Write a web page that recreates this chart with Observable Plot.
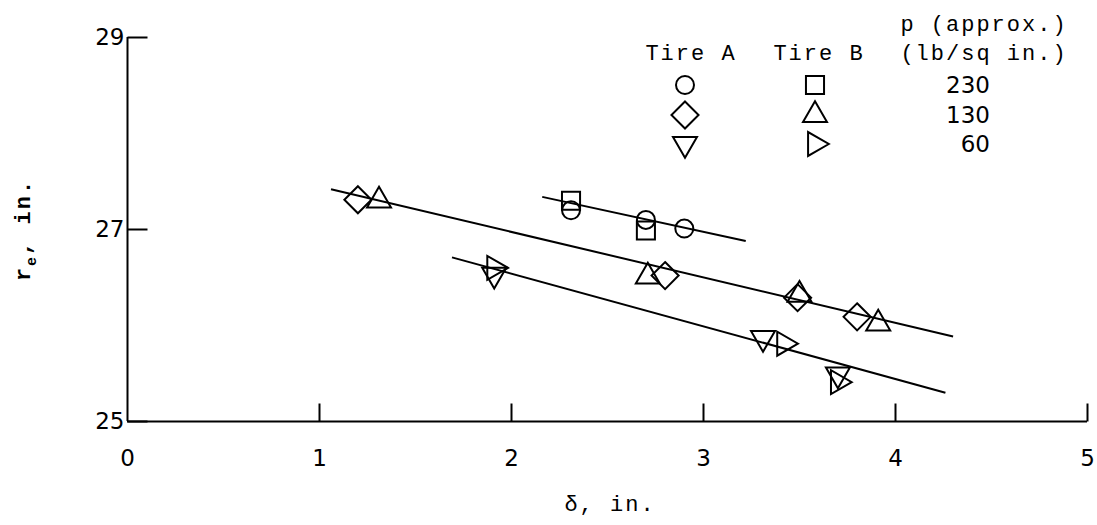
<!DOCTYPE html>
<html><head><meta charset="utf-8">
<script src="https://cdn.jsdelivr.net/npm/d3@7"></script>
<script src="https://cdn.jsdelivr.net/npm/@observablehq/plot@0.6"></script>
<style>
body{margin:0;background:#fff}
#chart{width:1097px;height:525px}
</style>
</head><body><div id="chart"></div>
<script>
// ---- data ----
const xTicks = [0, 1, 2, 3, 4, 5];
const yTicks = [25, 27, 29];
const pressureLabels = ["230", "130", "60"];
const tireLabels = ["Tire A", "Tire B"];

// Tire A / Tire B points, by pressure
const a230x = [2.31, 2.70, 2.90];
const a230y = [27.20, 27.10, 27.01];
const b230x = [2.31, 2.70];
const b230y = [27.30, 26.99];
const a130x = [1.20, 2.80, 3.49, 3.80];
const a130y = [27.31, 26.52, 26.29, 26.09];
const b130x = [1.31, 2.71, 3.50, 3.91];
const b130y = [27.30, 26.51, 26.32, 26.02];
const a60x = [1.91, 3.31, 3.70];
const a60y = [26.53, 25.87, 25.49];
const b60x = [1.91, 3.42, 3.70];
const b60y = [26.60, 25.81, 25.41];

// faired lines [x1, y1, x2, y2]
const line230 = [2.16, 27.34, 3.22, 26.88];
const line130 = [1.06, 27.42, 4.30, 25.885];
const line60 = [1.69, 26.71, 4.26, 25.30];

// ---- helpers ----
const pts = (xs, ys) => xs.map((x, i) => ({x, y: ys[i]}));
const seg = l => [{x1: l[0], y1: l[1], x2: l[2], y2: l[3]}];
const S3 = Math.sqrt(3);
const downTri = {draw(c, size) { const y = Math.sqrt(size / (S3 * 3)); c.moveTo(0, 2 * y); c.lineTo(-S3 * y, -y); c.lineTo(S3 * y, -y); c.closePath(); }};
const upTri = {draw(c, size) { const y = Math.sqrt(size / (S3 * 3)); c.moveTo(0, -2 * y); c.lineTo(S3 * y, y); c.lineTo(-S3 * y, y); c.closePath(); }};
const rightTri = {draw(c, size) { const y = Math.sqrt(size / (S3 * 3)); c.moveTo(2 * y, 0); c.lineTo(-y, S3 * y); c.lineTo(-y, -S3 * y); c.closePath(); }};
const diamond = {draw(c, size) { const h = Math.sqrt(size) / Math.SQRT2; c.moveTo(0, -h); c.lineTo(h, 0); c.lineTo(0, h); c.lineTo(-h, 0); c.closePath(); }};
const square = {draw(c, size) { const h = Math.sqrt(size) / 2; c.rect(-h, -h, 2 * h, 2 * h); }};
const circle = {draw(c, size) { const r = Math.sqrt(size / Math.PI); c.moveTo(r, 0); c.arc(0, 0, r, 0, 2 * Math.PI); }};
const tickUp = {draw(c) { c.moveTo(0, 0); c.lineTo(0, -18); }};
const tickRight = {draw(c) { c.moveTo(0, 0); c.lineTo(20, 0); }};

const symStyle = {fill: "none", stroke: "black", strokeWidth: 2};
const dots = (xs, ys, symbol, r) => Plot.dot(pts(xs, ys), {x: "x", y: "y", symbol, r, ...symStyle});
const link = l => Plot.link(seg(l), {x1: "x1", y1: "y1", x2: "x2", y2: "y2", stroke: "black", strokeWidth: 2});

const R = {circle: 9, square: 10.2, diamond: 10.8, tri: 8.9};
const sans = "'DejaVu Sans', sans-serif";

const plot = Plot.plot({
  width: 1097,
  height: 525,
  marginLeft: 127,
  marginRight: 10,
  marginTop: 37,
  marginBottom: 104,
  x: {domain: [0, 5]},
  y: {domain: [25, 29]},
  style: {background: "white", color: "black", fontFamily: sans, fontSize: "23px"},
  marks: [
    Plot.ruleY([25], {stroke: "black", strokeWidth: 2}),
    Plot.ruleX([0], {stroke: "black", strokeWidth: 2}),
    Plot.axisX({ticks: xTicks, tickSize: 0, tickPadding: 28, label: null, fontSize: 23, tickFormat: d => String(d)}),
    Plot.axisY({ticks: yTicks, tickSize: 0, tickPadding: 3, label: null, fontSize: 23, tickFormat: d => String(d)}),
    Plot.dot(xTicks.filter(t => t > 0), {x: d => d, y: () => 25, symbol: tickUp, stroke: "black", strokeWidth: 2, fill: "none"}),
    Plot.dot(yTicks, {x: () => 0, y: d => d, symbol: tickRight, stroke: "black", strokeWidth: 2, fill: "none"}),
    link(line230),
    link(line130),
    link(line60),
    dots(a230x, a230y, circle, R.circle),
    dots(b230x, b230y, square, R.square),
    dots(a130x, a130y, diamond, R.diamond),
    dots(b130x, b130y, upTri, R.tri),
    dots(a60x, a60y, downTri, R.tri),
    dots(b60x, b60y, rightTri, R.tri)
  ]
});
document.getElementById("chart").append(plot);

// ---- axis labels and legend (text and symbols) ----
const svg = d3.select(plot);
const mono = "'Liberation Mono', 'DejaVu Sans Mono', monospace";

const yl = svg.append("text")
  .attr("transform", "translate(30,230) rotate(-90)")
  .attr("text-anchor", "middle")
  .attr("font-family", mono).attr("font-size", 22).attr("font-weight", "bold")
  .attr("letter-spacing", 2).attr("fill", "black");
yl.append("tspan").text("r");
yl.append("tspan").attr("font-size", 15).attr("dy", 6).text("e");
yl.append("tspan").attr("dy", -6).text(", in.");

svg.append("text")
  .attr("x", 610).attr("y", 511)
  .attr("text-anchor", "middle")
  .attr("font-family", mono).attr("font-size", 22).attr("letter-spacing", 2)
  .attr("fill", "black").text("δ, in.");

const lg = svg.append("g").attr("font-family", mono).attr("font-size", 22).attr("letter-spacing", 2).attr("fill", "black");
lg.append("text").attr("x", 984).attr("y", 31).attr("text-anchor", "middle").text("p (approx.)");
lg.append("text").attr("x", 984).attr("y", 60).attr("text-anchor", "middle").text("(lb/sq in.)");
lg.append("text").attr("x", 691).attr("y", 60).attr("text-anchor", "middle").text(tireLabels[0]);
lg.append("text").attr("x", 819).attr("y", 60).attr("text-anchor", "middle").text(tireLabels[1]);

const rowsY = [85, 115, 144];
const legendSyms = [[circle, R.circle, square, R.square], [diamond, R.diamond, upTri, R.tri], [downTri, R.tri, rightTri, R.tri]];
legendSyms.forEach((s, i) => {
  svg.append("path").attr("transform", `translate(685,${rowsY[i]})`)
    .attr("d", d3.symbol(s[0], Math.PI * s[1] * s[1])()).attr("fill", "none").attr("stroke", "black").attr("stroke-width", 2);
  svg.append("path").attr("transform", `translate(815,${rowsY[i]})`)
    .attr("d", d3.symbol(s[2], Math.PI * s[3] * s[3])()).attr("fill", "none").attr("stroke", "black").attr("stroke-width", 2);
  svg.append("text").attr("x", 990).attr("y", rowsY[i]).attr("dy", "0.36em")
    .attr("text-anchor", "end").attr("font-family", sans).attr("font-size", 23)
    .attr("fill", "black").text(pressureLabels[i]);
});
</script>
</body></html>
